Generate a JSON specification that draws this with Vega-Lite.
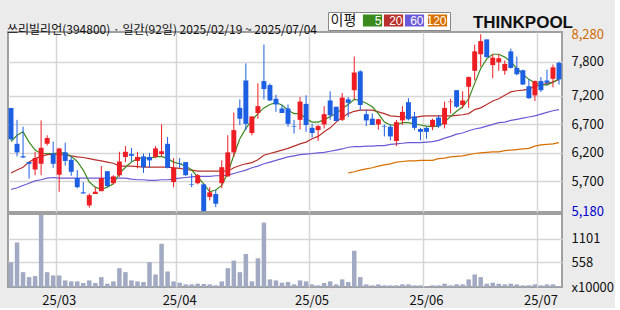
{
"$schema":"https://vega.github.io/schema/vega-lite/v6.json",
"background":"#ebebeb",
"padding":{"left":7,"top":11,"right":0,"bottom":0},
"title":{"text":"쓰리빌리언(394800) · 일간(92일) 2025/02/19 ~ 2025/07/04","anchor":"start","frame":"bounds","font":"Noto Sans CJK KR","fontSize":12,"fontWeight":"normal","color":"#111111","offset":-21,"dy":4},
"config":{"view":{"stroke":"#a0a0a0","strokeWidth":2,"fill":"white"},"axis":{"labelFont":"Noto Sans CJK KR","labelFontSize":13,"labelColor":"#111111","ticks":false,"domain":false,"title":null,"gridColor":"#d6d6d6","gridWidth":1.5,"labelOverlap":false}},
"datasets":{"k":[
{"d":"2025-02-19","o":6990,"h":6990,"l":6420,"c":6440,"v":563,"m5":6400,"m20":5850,"m60":5560,"m120":null},
{"d":"2025-02-20","o":6360,"h":6780,"l":6140,"c":6210,"v":1013,"m5":6510,"m20":5900,"m60":5590,"m120":null},
{"d":"2025-02-21","o":6140,"h":6660,"l":6110,"c":6120,"v":338,"m5":6570,"m20":5950,"m60":5630,"m120":null},
{"d":"2025-02-24","o":6040,"h":6040,"l":5750,"c":6010,"v":225,"m5":6390,"m20":6040,"m60":5670,"m120":null},
{"d":"2025-02-25","o":5910,"h":6220,"l":5810,"c":6110,"v":248,"m5":6250,"m20":6100,"m60":5710,"m120":null},
{"d":"2025-02-26","o":6010,"h":6770,"l":5810,"c":6290,"v":1635,"m5":6190,"m20":6140,"m60":5730,"m120":null},
{"d":"2025-02-27","o":6360,"h":6510,"l":6330,"c":6460,"v":338,"m5":6190,"m20":6170,"m60":5760,"m120":null},
{"d":"2025-02-28","o":6190,"h":6400,"l":5940,"c":6010,"v":263,"m5":6190,"m20":6180,"m60":5770,"m120":null},
{"d":"2025-03-04","o":5820,"h":6290,"l":5520,"c":6280,"v":263,"m5":6200,"m20":6180,"m60":5760,"m120":null},
{"d":"2025-03-05","o":6210,"h":6380,"l":5980,"c":6060,"v":150,"m5":6200,"m20":6160,"m60":5760,"m120":null},
{"d":"2025-03-06","o":6080,"h":6140,"l":5800,"c":5870,"v":128,"m5":6140,"m20":6150,"m60":5760,"m120":null},
{"d":"2025-03-07","o":5760,"h":5900,"l":5580,"c":5600,"v":128,"m5":6050,"m20":6130,"m60":5760,"m120":null},
{"d":"2025-03-10","o":5510,"h":5690,"l":5490,"c":5490,"v":90,"m5":5900,"m20":6120,"m60":5760,"m120":null},
{"d":"2025-03-11","o":5280,"h":5490,"l":5240,"c":5460,"v":150,"m5":5690,"m20":6100,"m60":5760,"m120":null},
{"d":"2025-03-12","o":5480,"h":5600,"l":5480,"c":5520,"v":90,"m5":5600,"m20":6080,"m60":5760,"m120":null},
{"d":"2025-03-13","o":5530,"h":5970,"l":5530,"c":5760,"v":225,"m5":5560,"m20":6060,"m60":5760,"m120":null},
{"d":"2025-03-14","o":5880,"h":5880,"l":5600,"c":5620,"v":75,"m5":5600,"m20":6040,"m60":5760,"m120":null},
{"d":"2025-03-17","o":5670,"h":5810,"l":5650,"c":5790,"v":128,"m5":5660,"m20":6020,"m60":5760,"m120":null},
{"d":"2025-03-18","o":5810,"h":6220,"l":5780,"c":6050,"v":428,"m5":5840,"m20":5970,"m60":5760,"m120":null},
{"d":"2025-03-19","o":6130,"h":6320,"l":6040,"c":6220,"v":338,"m5":5950,"m20":5970,"m60":5760,"m120":null},
{"d":"2025-03-20","o":6180,"h":6290,"l":6050,"c":6150,"v":150,"m5":6040,"m20":5970,"m60":5740,"m120":null},
{"d":"2025-03-21","o":6060,"h":6220,"l":5930,"c":6130,"v":128,"m5":6100,"m20":5960,"m60":5730,"m120":null},
{"d":"2025-03-24","o":6140,"h":6190,"l":5850,"c":5950,"v":113,"m5":6110,"m20":5950,"m60":5730,"m120":null},
{"d":"2025-03-25","o":6130,"h":6200,"l":5940,"c":6070,"v":563,"m5":6110,"m20":5950,"m60":5720,"m120":null},
{"d":"2025-03-26","o":6130,"h":6320,"l":6110,"c":6280,"v":285,"m5":6130,"m20":5950,"m60":5720,"m120":null},
{"d":"2025-03-27","o":6180,"h":6700,"l":6140,"c":6230,"v":983,"m5":6140,"m20":5950,"m60":5730,"m120":null},
{"d":"2025-03-28","o":6360,"h":6480,"l":5930,"c":5940,"v":353,"m5":6100,"m20":5950,"m60":5730,"m120":null},
{"d":"2025-03-31","o":5690,"h":6110,"l":5600,"c":5940,"v":128,"m5":6040,"m20":5940,"m60":5740,"m120":null},
{"d":"2025-04-01","o":6020,"h":6110,"l":5940,"c":6010,"v":98,"m5":6010,"m20":5930,"m60":5760,"m120":null},
{"d":"2025-04-02","o":6040,"h":6040,"l":5800,"c":5810,"v":60,"m5":5970,"m20":5910,"m60":5770,"m120":null},
{"d":"2025-04-03","o":5650,"h":5840,"l":5600,"c":5640,"v":60,"m5":5900,"m20":5900,"m60":5780,"m120":null},
{"d":"2025-04-04","o":5670,"h":5830,"l":5650,"c":5810,"v":75,"m5":5780,"m20":5880,"m60":5790,"m120":null},
{"d":"2025-04-07","o":5650,"h":5650,"l":5180,"c":5180,"v":68,"m5":5660,"m20":5880,"m60":5790,"m120":null},
{"d":"2025-04-08","o":5430,"h":5600,"l":5370,"c":5510,"v":60,"m5":5520,"m20":5880,"m60":5790,"m120":null},
{"d":"2025-04-09","o":5480,"h":5550,"l":5250,"c":5310,"v":38,"m5":5550,"m20":5880,"m60":5800,"m120":null},
{"d":"2025-04-10","o":5670,"h":6070,"l":5580,"c":5950,"v":128,"m5":5630,"m20":5880,"m60":5800,"m120":null},
{"d":"2025-04-11","o":5790,"h":6510,"l":5780,"c":6210,"v":428,"m5":5850,"m20":5880,"m60":5810,"m120":null},
{"d":"2025-04-14","o":6210,"h":6910,"l":6130,"c":6600,"v":600,"m5":6160,"m20":5940,"m60":5840,"m120":null},
{"d":"2025-04-15","o":6990,"h":7140,"l":6690,"c":6800,"v":338,"m5":6450,"m20":5980,"m60":5870,"m120":null},
{"d":"2025-04-16","o":7470,"h":7770,"l":6600,"c":6710,"v":750,"m5":6630,"m20":6010,"m60":5900,"m120":null},
{"d":"2025-04-17","o":6550,"h":6840,"l":6510,"c":6840,"v":128,"m5":6770,"m20":6030,"m60":5940,"m120":null},
{"d":"2025-04-18","o":6900,"h":7420,"l":6800,"c":7020,"v":653,"m5":6890,"m20":6080,"m60":5970,"m120":null},
{"d":"2025-04-21","o":7460,"h":8100,"l":7140,"c":7320,"v":1463,"m5":6990,"m20":6160,"m60":6010,"m120":null},
{"d":"2025-04-22","o":7390,"h":7420,"l":7110,"c":7120,"v":173,"m5":7050,"m20":6190,"m60":6040,"m120":null},
{"d":"2025-04-23","o":7150,"h":7220,"l":6920,"c":7050,"v":150,"m5":7080,"m20":6220,"m60":6070,"m120":null},
{"d":"2025-04-24","o":6980,"h":7040,"l":6900,"c":6900,"v":98,"m5":7040,"m20":6250,"m60":6100,"m120":null},
{"d":"2025-04-25","o":6980,"h":7050,"l":6660,"c":6710,"v":113,"m5":6950,"m20":6280,"m60":6130,"m120":null},
{"d":"2025-04-28","o":6670,"h":6780,"l":6540,"c":6660,"v":60,"m5":6890,"m20":6320,"m60":6150,"m120":null},
{"d":"2025-04-29","o":6780,"h":7180,"l":6610,"c":7100,"v":150,"m5":6890,"m20":6360,"m60":6170,"m120":null},
{"d":"2025-04-30","o":7060,"h":7210,"l":6570,"c":6690,"v":128,"m5":6800,"m20":6390,"m60":6180,"m120":null},
{"d":"2025-05-02","o":6640,"h":6710,"l":6470,"c":6550,"v":60,"m5":6740,"m20":6450,"m60":6190,"m120":null},
{"d":"2025-05-07","o":6600,"h":6690,"l":6410,"c":6670,"v":38,"m5":6740,"m20":6490,"m60":6200,"m120":null},
{"d":"2025-05-08","o":6700,"h":7020,"l":6630,"c":6880,"v":90,"m5":6780,"m20":6570,"m60":6210,"m120":null},
{"d":"2025-05-09","o":7120,"h":7280,"l":6780,"c":6860,"v":128,"m5":6840,"m20":6640,"m60":6230,"m120":null},
{"d":"2025-05-12","o":7010,"h":7010,"l":6760,"c":6760,"v":60,"m5":6890,"m20":6740,"m60":6250,"m120":null},
{"d":"2025-05-13","o":6780,"h":7250,"l":6760,"c":7170,"v":173,"m5":6980,"m20":6820,"m60":6270,"m120":null},
{"d":"2025-05-14","o":7140,"h":7180,"l":6830,"c":7080,"v":113,"m5":7050,"m20":6890,"m60":6300,"m120":5850},
{"d":"2025-05-15","o":7300,"h":7890,"l":7140,"c":7610,"v":825,"m5":7140,"m20":6930,"m60":6310,"m120":5870},
{"d":"2025-05-16","o":7630,"h":7650,"l":6950,"c":7040,"v":225,"m5":7120,"m20":6950,"m60":6310,"m120":5900},
{"d":"2025-05-19","o":6880,"h":6960,"l":6670,"c":6770,"v":60,"m5":7070,"m20":6950,"m60":6320,"m120":5920},
{"d":"2025-05-20","o":6800,"h":6890,"l":6690,"c":6690,"v":38,"m5":7010,"m20":6950,"m60":6320,"m120":5940},
{"d":"2025-05-21","o":6700,"h":6800,"l":6610,"c":6790,"v":60,"m5":6890,"m20":6920,"m60":6330,"m120":5970},
{"d":"2025-05-22","o":6670,"h":6700,"l":6490,"c":6660,"v":38,"m5":6740,"m20":6890,"m60":6330,"m120":5990},
{"d":"2025-05-23","o":6660,"h":6700,"l":6420,"c":6490,"v":38,"m5":6690,"m20":6850,"m60":6350,"m120":6010},
{"d":"2025-05-26","o":6410,"h":6780,"l":6320,"c":6740,"v":38,"m5":6690,"m20":6840,"m60":6360,"m120":6040},
{"d":"2025-05-27","o":6770,"h":7020,"l":6690,"c":6920,"v":60,"m5":6730,"m20":6830,"m60":6370,"m120":6050},
{"d":"2025-05-28","o":7090,"h":7160,"l":6770,"c":6790,"v":60,"m5":6730,"m20":6830,"m60":6380,"m120":6060},
{"d":"2025-05-29","o":6840,"h":6920,"l":6600,"c":6640,"v":38,"m5":6710,"m20":6820,"m60":6380,"m120":6060},
{"d":"2025-05-30","o":6620,"h":6640,"l":6420,"c":6570,"v":38,"m5":6690,"m20":6840,"m60":6380,"m120":6070},
{"d":"2025-06-02","o":6640,"h":6660,"l":6450,"c":6570,"v":15,"m5":6670,"m20":6850,"m60":6390,"m120":6070},
{"d":"2025-06-04","o":6660,"h":6800,"l":6600,"c":6780,"v":38,"m5":6660,"m20":6850,"m60":6400,"m120":6070},
{"d":"2025-06-05","o":6820,"h":6860,"l":6640,"c":6670,"v":38,"m5":6670,"m20":6850,"m60":6420,"m120":6100},
{"d":"2025-06-09","o":6700,"h":7100,"l":6630,"c":6990,"v":75,"m5":6740,"m20":6850,"m60":6460,"m120":6110},
{"d":"2025-06-10","o":7090,"h":7150,"l":6890,"c":7100,"v":38,"m5":6840,"m20":6850,"m60":6490,"m120":6130},
{"d":"2025-06-11","o":7300,"h":7300,"l":6990,"c":7010,"v":60,"m5":6930,"m20":6860,"m60":6530,"m120":6140},
{"d":"2025-06-12","o":7040,"h":7280,"l":6980,"c":7120,"v":60,"m5":7010,"m20":6870,"m60":6550,"m120":6150},
{"d":"2025-06-13","o":7360,"h":7540,"l":6990,"c":7530,"v":173,"m5":7150,"m20":6890,"m60":6590,"m120":6170},
{"d":"2025-06-16","o":7640,"h":8100,"l":7470,"c":7980,"v":285,"m5":7420,"m20":6960,"m60":6620,"m120":6190},
{"d":"2025-06-17","o":7930,"h":8280,"l":7710,"c":8160,"v":225,"m5":7680,"m20":6990,"m60":6640,"m120":6200},
{"d":"2025-06-18","o":8190,"h":8190,"l":7870,"c":7880,"v":75,"m5":7850,"m20":7050,"m60":6670,"m120":6210},
{"d":"2025-06-19","o":7740,"h":7930,"l":7510,"c":7870,"v":98,"m5":7930,"m20":7110,"m60":6700,"m120":6220},
{"d":"2025-06-20","o":7790,"h":7930,"l":7640,"c":7860,"v":75,"m5":7930,"m20":7150,"m60":6730,"m120":6220},
{"d":"2025-06-23","o":7640,"h":7820,"l":7570,"c":7760,"v":60,"m5":7880,"m20":7210,"m60":6740,"m120":6240},
{"d":"2025-06-24","o":7980,"h":8030,"l":7680,"c":7690,"v":75,"m5":7800,"m20":7270,"m60":6770,"m120":6250},
{"d":"2025-06-25","o":7690,"h":7890,"l":7560,"c":7580,"v":60,"m5":7680,"m20":7290,"m60":6790,"m120":6260},
{"d":"2025-06-26","o":7650,"h":7660,"l":7390,"c":7400,"v":38,"m5":7580,"m20":7300,"m60":6810,"m120":6270},
{"d":"2025-06-27","o":7370,"h":7490,"l":7150,"c":7160,"v":38,"m5":7490,"m20":7320,"m60":6830,"m120":6280},
{"d":"2025-06-30","o":7210,"h":7470,"l":7110,"c":7460,"v":60,"m5":7430,"m20":7370,"m60":6850,"m120":6320},
{"d":"2025-07-01","o":7460,"h":7530,"l":7270,"c":7300,"v":38,"m5":7400,"m20":7390,"m60":6880,"m120":6340},
{"d":"2025-07-02","o":7470,"h":7660,"l":7390,"c":7430,"v":60,"m5":7390,"m20":7420,"m60":6910,"m120":6350},
{"d":"2025-07-03","o":7500,"h":7750,"l":7350,"c":7700,"v":60,"m5":7440,"m20":7440,"m60":6940,"m120":6360},
{"d":"2025-07-04","o":7780,"h":7800,"l":7400,"c":7490,"v":23,"m5":7500,"m20":7490,"m60":6960,"m120":6380}
]},
"bounds":"flush",
"spacing":2,
"vconcat":[
{
"width":554,"height":180,
"title":{"text":"THINKPOOL","anchor":"end","frame":"group","font":"Liberation Sans","fontSize":17,"fontWeight":"bold","color":"#111111","offset":-2,"dx":11,"dy":2},
"data":{"name":"k"},
"encoding":{"x":{"field":"d","type":"ordinal","scale":{"paddingInner":0,"paddingOuter":0},"axis":{"labels":false,"grid":true,"bandPosition":0,"minExtent":0,"maxExtent":0,"values":["2025-03-04","2025-04-01","2025-05-02","2025-06-02","2025-07-01"]}}},
"layer":[
{"transform":[{"fold":["m120","m60","m20","m5"],"as":["ma","val"]},{"filter":"isValid(datum.val)"}],
"mark":{"type":"line","strokeWidth":1.2},
"encoding":{
"y":{"field":"val","type":"quantitative","scale":{"domain":[5165,8320],"zero":false,"nice":false},
"axis":{"orient":"right","values":[5180,5700,6200,6700,7200,7800,8280],"tickCount":30,"format":",d","labelPadding":9,"labelAlign":"left","labelOverlap":false,
"labelColor":{"condition":[{"test":"datum.value == 8280","value":"#d06a00"},{"test":"datum.value == 5180","value":"#0000cc"}],"value":"#111111"},
"gridColor":{"condition":{"test":"datum.value == 8280 || datum.value == 5180","value":"transparent"},"value":"#d6d6d6"}}},
"color":{"field":"ma","type":"nominal","scale":{"domain":["m5","m20","m60","m120"],"range":["#3a8a1e","#b8302c","#6a5ad8","#d87000"]},
"legend":{"orient":"none","legendX":320,"legendY":-20,"direction":"horizontal","columns":4,"title":"이평","titleOrient":"left","titleAnchor":"middle","titleBaseline":"middle","titleFont":"Noto Sans CJK KR","titleFontSize":14,"titleFontWeight":"normal","titleColor":"#111111","titlePadding":10,
"symbolType":"M-1.6,-1H1.6V1H-1.6Z","symbolSize":144,"symbolStrokeWidth":0,
"encode":{"symbols":{"update":{"fill":{"scale":"color","field":"value"},"fillOpacity":{"value":1},"strokeWidth":{"value":0}}}},
"labelExpr":"replace(datum.label, 'm', '')","labelAlign":"right","labelOffset":3,"labelFont":"Liberation Sans","labelFontSize":12,"labelColor":"white","columnPadding":1,"fillColor":"white","strokeColor":"#888888","padding":2.5}}
}},
{"mark":{"type":"rule","strokeWidth":1},
"encoding":{"y":{"field":"l","type":"quantitative"},"y2":{"field":"h"},
"color":{"condition":{"test":"datum.c >= datum.o","value":"#ee1c23"},"value":"#1d5fe3"}}},
{"mark":{"type":"bar","width":{"band":0.82}},
"encoding":{"y":{"field":"o","type":"quantitative"},"y2":{"field":"c"},
"color":{"condition":{"test":"datum.c >= datum.o","value":"#ee1c23"},"value":"#1d5fe3"}}}
]
},
{
"width":554,"height":73,
"data":{"name":"k"},
"mark":{"type":"bar","width":{"band":0.75},"color":"#a2aac3"},
"encoding":{
"x":{"field":"d","type":"ordinal","scale":{"paddingInner":0,"paddingOuter":0},
"axis":{"grid":true,"bandPosition":0,"labelAngle":0,"labelPadding":7,"values":["2025-03-04","2025-04-01","2025-05-02","2025-06-02","2025-07-01"],"labelExpr":"slice(datum.value,2,4) + '/' + slice(datum.value,5,7)"}},
"y":{"field":"v","type":"quantitative","scale":{"domain":[0,1660],"nice":false},
"axis":{"orient":"right","values":[0,558,1101],"tickCount":30,"format":"d","labelPadding":9,"labelAlign":"left","labelExpr":"datum.value == 0 ? 'x10000' : datum.label",
"gridColor":{"condition":{"test":"datum.value == 0","value":"transparent"},"value":"#d6d6d6"}}}
}
}
]
}
